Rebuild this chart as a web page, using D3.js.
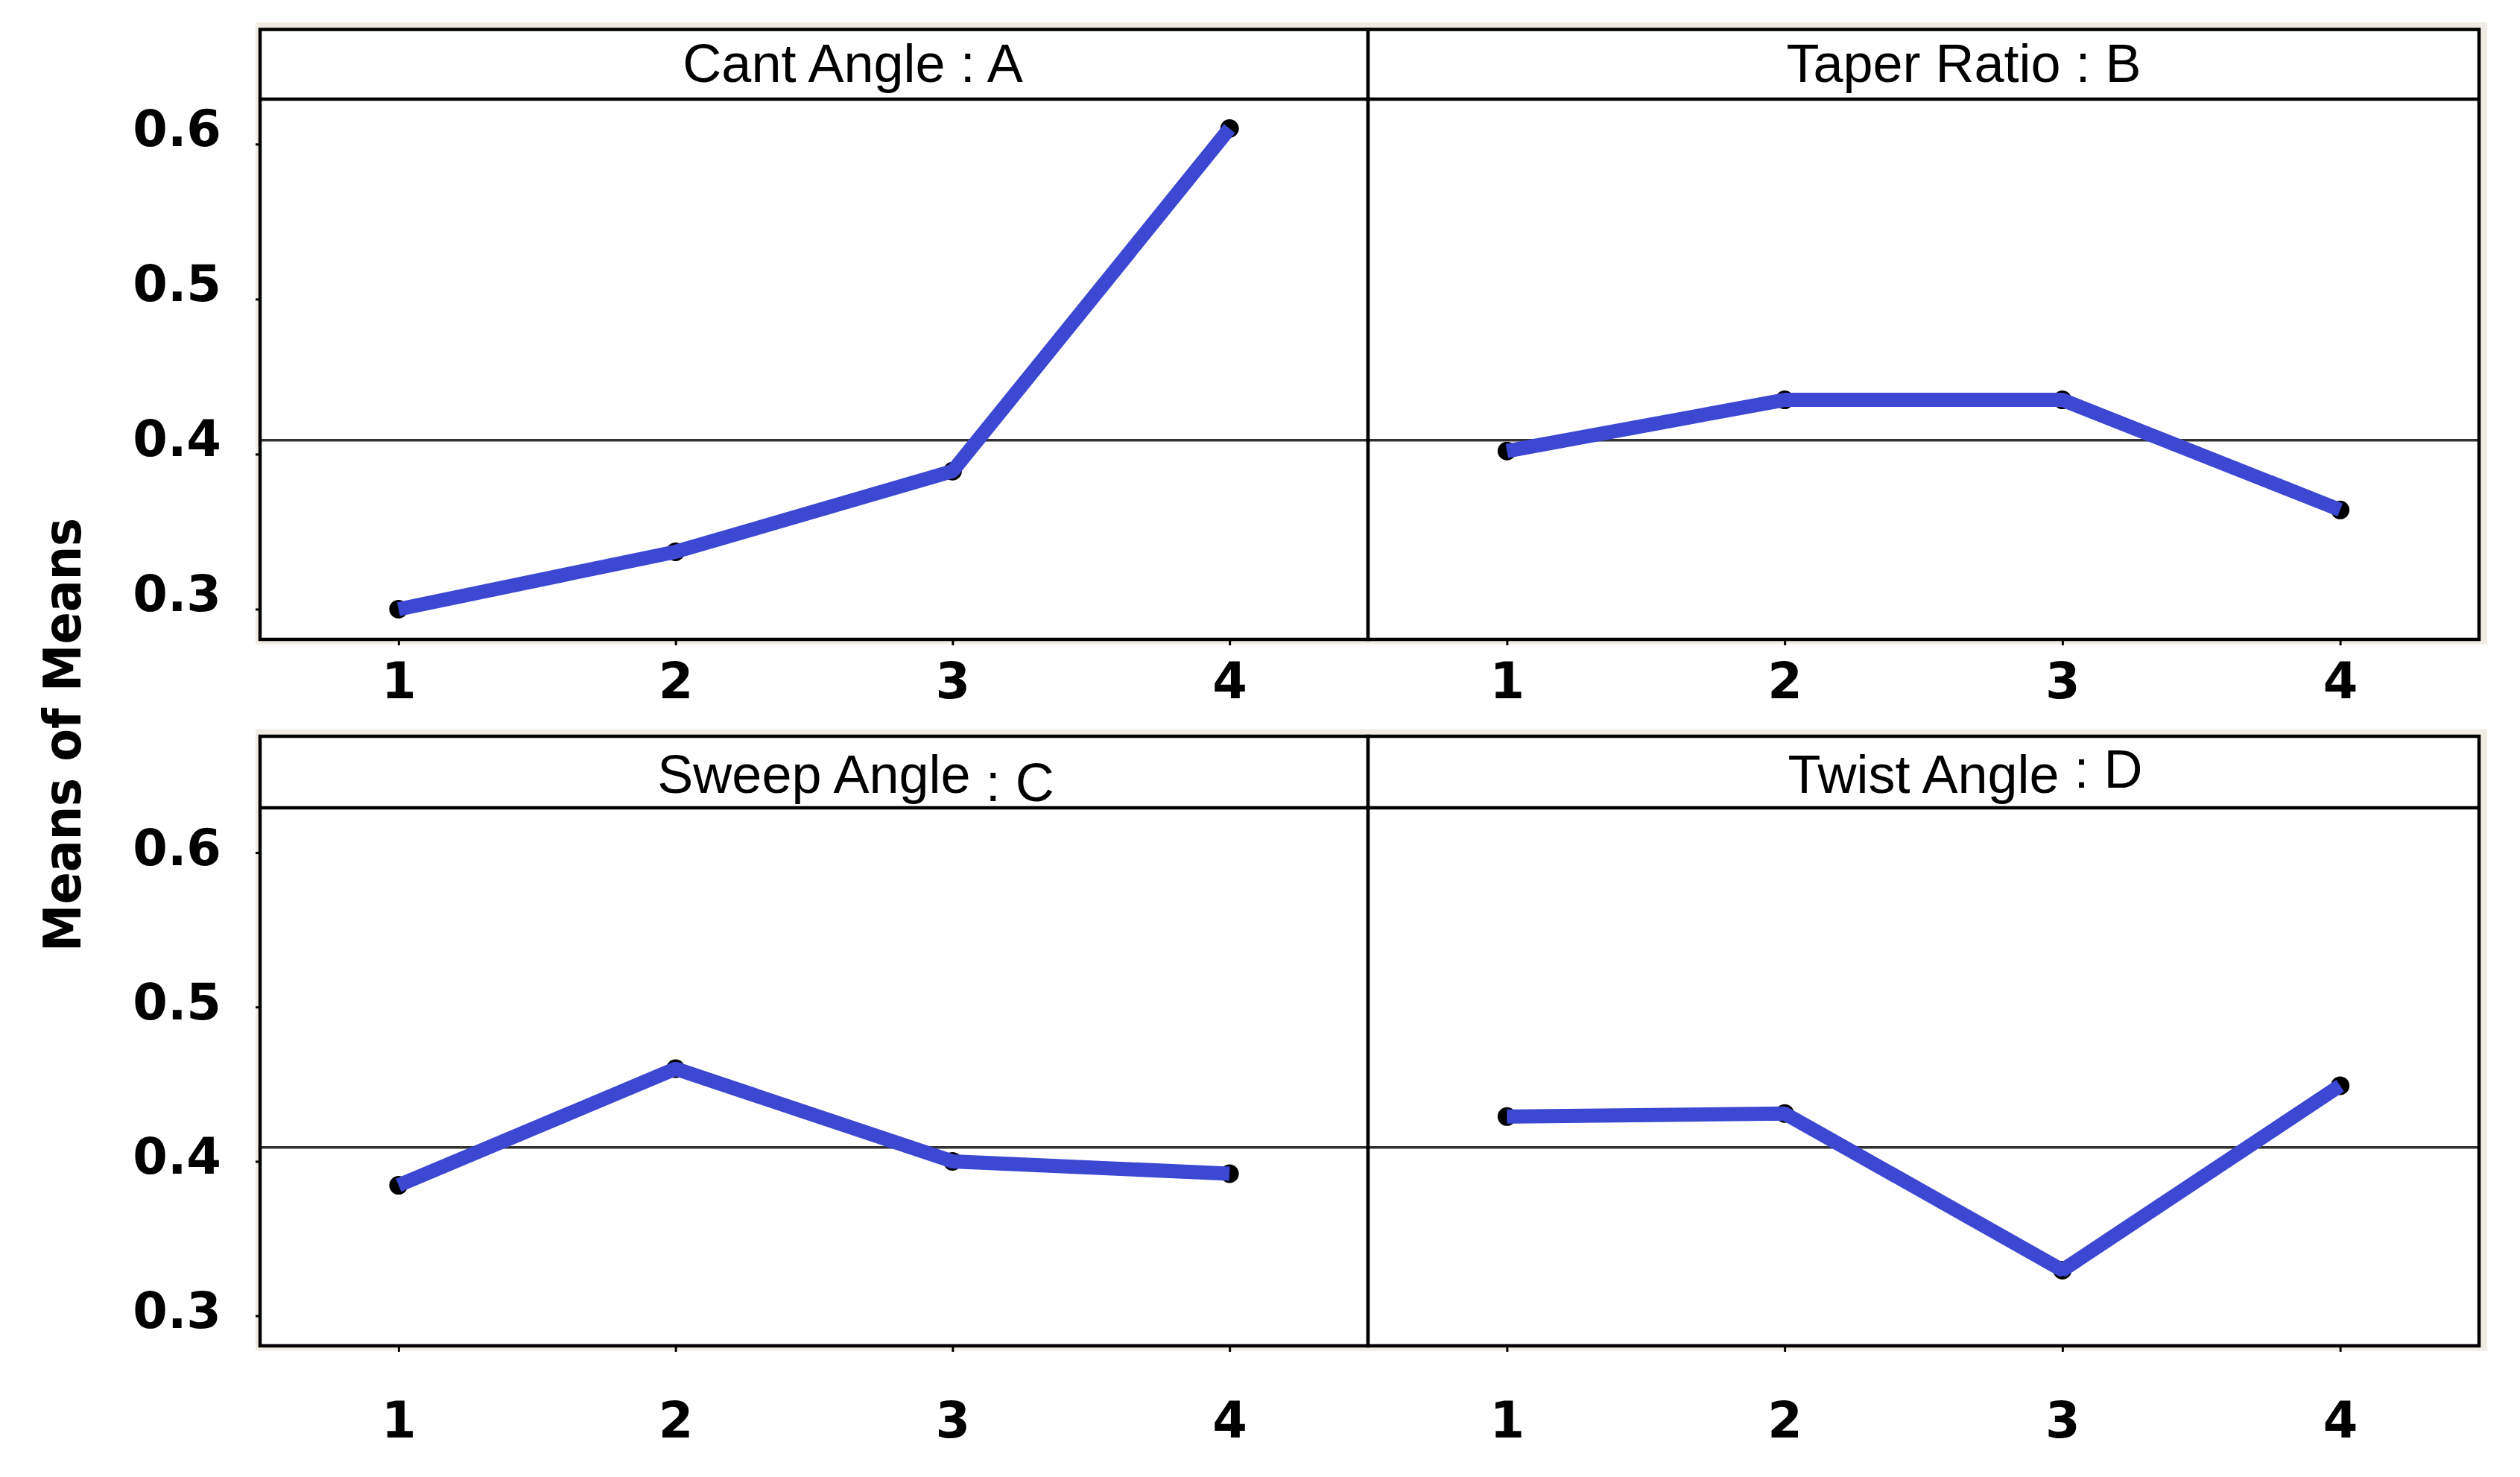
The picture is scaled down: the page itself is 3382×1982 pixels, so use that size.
<!DOCTYPE html>
<html>
<head>
<meta charset="utf-8">
<script src="https://cdn.jsdelivr.net/npm/d3@7"></script>
<style>
  html, body { margin: 0; padding: 0; background: #ffffff; }
  svg { display: block; }
</style>
</head>
<body>
<svg id="chart" width="3382" height="1982"></svg>
<script>
// ---- data ----
const levels = [1, 2, 3, 4];
const factorNames = ["Cant Angle", "Taper Ratio", "Sweep Angle", "Twist Angle"];
const factorCodes = ["A", "B", "C", "D"];
const cantAngle  = [0.300, 0.337, 0.389, 0.610];
const taperRatio = [0.402, 0.435, 0.435, 0.364];
const sweepAngle = [0.3845, 0.460, 0.400, 0.392];
const twistAngle = [0.429, 0.431, 0.3295, 0.449];
const grandMean = 0.409;
const yTicks = [0.3, 0.4, 0.5, 0.6];
const yTickLabels = ["0.3", "0.4", "0.5", "0.6"];
const xTickLabels = ["1", "2", "3", "4"];
const yTitle = "Means of Means";

const seriesValues = [cantAngle, taperRatio, sweepAngle, twistAngle];

// ---- layout ----
const svg = d3.select("#chart");
const cols = [[349, 1836], [1836, 3327]];
const rows = [
  { top: 39.5, header: 133, bottom: 858, labelOff: 2, xLabelBase: 79, titleBase: 110 },
  { top: 988, header: 1084, bottom: 1806, labelOff: 16, xLabelBase: 123, titleBase: 1063.5 }
];
const suffixDy = [0, 0, 11, -7];
const yDomain = [0.2805, 0.629];
const blue = "#3c48d2";
const beige = "#f1ece3";

// beige frames behind each row
rows.forEach(r => {
  svg.append("rect")
    .attr("x", 343).attr("y", r.top - 9.5)
    .attr("width", 3338 - 343).attr("height", r.bottom - r.top + 16)
    .attr("fill", beige);
});

// y-axis title
svg.append("text")
  .attr("transform", "translate(108,986) rotate(-90)")
  .attr("text-anchor", "middle")
  .attr("font-family", "DejaVu Sans")
  .attr("font-weight", "bold")
  .attr("font-size", 70)
  .attr("textLength", 582)
  .attr("lengthAdjust", "spacingAndGlyphs")
  .attr("fill", "#000")
  .text(yTitle);

factorNames.forEach((name, i) => {
  const r = rows[Math.floor(i / 2)];
  const c = cols[i % 2];
  const x = d3.scalePoint().domain(levels).range(c).padding(0.5);
  const y = d3.scaleLinear().domain(yDomain).range([r.bottom, r.header]);
  const g = svg.append("g");

  // panel background
  g.append("rect")
    .attr("x", c[0]).attr("y", r.top)
    .attr("width", c[1] - c[0]).attr("height", r.bottom - r.top)
    .attr("fill", "#ffffff");

  // grand mean reference line
  g.append("line")
    .attr("x1", c[0]).attr("x2", c[1])
    .attr("y1", y(grandMean)).attr("y2", y(grandMean))
    .attr("stroke", "#333").attr("stroke-width", 3.5);

  // x axis
  const xAxis = g.append("g")
    .attr("transform", `translate(0,${r.bottom})`)
    .call(d3.axisBottom(x).tickSize(8).tickFormat((d, k) => xTickLabels[k]));
  xAxis.select(".domain").remove();
  xAxis.selectAll(".tick line").attr("stroke", "#000").attr("stroke-width", 3);
  xAxis.selectAll(".tick text")
    .attr("y", r.xLabelBase).attr("dy", 0)
    .attr("font-family", "DejaVu Sans").attr("font-weight", "bold")
    .attr("font-size", 67).attr("fill", "#000");

  // y axis on left panels only
  if (i % 2 === 0) {
    const yAxis = g.append("g")
      .attr("transform", `translate(${c[0]},0)`)
      .call(d3.axisLeft(y).tickValues(yTicks).tickSize(6)
        .tickFormat((d, k) => yTickLabels[k]));
    yAxis.select(".domain").remove();
    yAxis.selectAll(".tick line").attr("stroke", "#000").attr("stroke-width", 3);
    yAxis.selectAll(".tick text")
      .attr("x", -52).attr("dy", 0).attr("y", r.labelOff)
      .attr("text-anchor", "end")
      .attr("font-family", "DejaVu Sans").attr("font-weight", "bold")
      .attr("font-size", 67).attr("fill", "#000");
  }

  const vals = seriesValues[i];
  const pts = levels.map((l, k) => [x(l), y(vals[k])]);

  // markers (drawn under the connecting line)
  g.selectAll("circle.pt").data(pts).enter().append("circle")
    .attr("class", "pt")
    .attr("cx", d => d[0]).attr("cy", d => d[1])
    .attr("r", 12.5).attr("fill", "#000");

  // connecting line
  g.append("path")
    .attr("d", d3.line()(pts))
    .attr("fill", "none")
    .attr("stroke", blue)
    .attr("stroke-width", 19)
    .attr("stroke-linejoin", "bevel")
    .attr("stroke-linecap", "butt");

  // panel border and header line
  g.append("rect")
    .attr("x", c[0]).attr("y", r.top)
    .attr("width", c[1] - c[0]).attr("height", r.bottom - r.top)
    .attr("fill", "none").attr("stroke", "#000").attr("stroke-width", 4.5);
  g.append("line")
    .attr("x1", c[0]).attr("x2", c[1])
    .attr("y1", r.header).attr("y2", r.header)
    .attr("stroke", "#000").attr("stroke-width", 4.5);

  // header title: base name centred, suffix appended
  const cx = (c[0] + c[1]) / 2;
  const base = g.append("text")
    .attr("x", cx).attr("y", r.titleBase)
    .attr("text-anchor", "middle")
    .attr("font-family", "Liberation Sans")
    .attr("font-size", 72).attr("fill", "#000")
    .text(name);
  const len = base.node().getComputedTextLength();
  g.append("text")
    .attr("x", cx + len / 2).attr("y", r.titleBase + suffixDy[i])
    .attr("text-anchor", "start")
    .attr("font-family", "Liberation Sans")
    .attr("font-size", 72).attr("fill", "#000")
    .attr("xml:space", "preserve")
    .style("white-space", "pre")
    .text(" : " + factorCodes[i]);
});
</script>
</body>
</html>
